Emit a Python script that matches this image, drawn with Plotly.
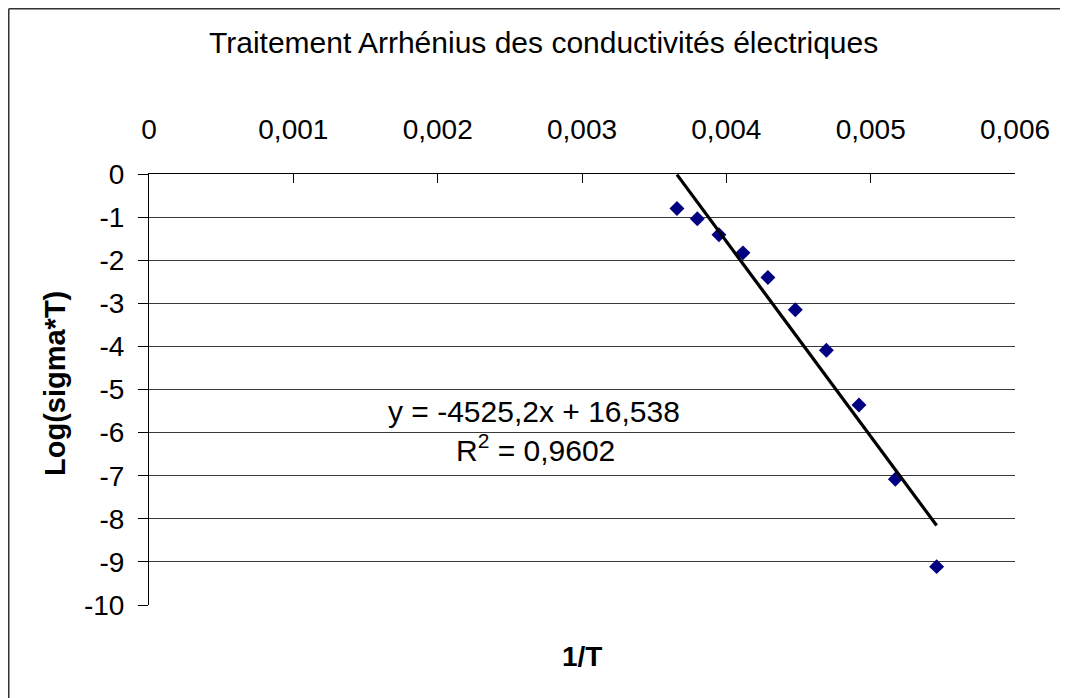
import plotly.graph_objects as go

# ---- data ----
inv_T = [0.003658, 0.003799, 0.003949, 0.004115, 0.004288,
         0.004478, 0.004693, 0.004919, 0.005171, 0.005457]
log_sigma_T = [-0.80, -1.04, -1.41, -1.83, -2.40,
               -3.15, -4.09, -5.36, -7.08, -9.11]
slope = -4525.2
intercept = 16.538
r2_text = "0,9602"

x_tick_vals = [0, 0.001, 0.002, 0.003, 0.004, 0.005, 0.006]
x_tick_text = ["0", "0,001", "0,002", "0,003", "0,004", "0,005", "0,006"]
y_tick_vals = [0, -1, -2, -3, -4, -5, -6, -7, -8, -9, -10]
y_tick_text = ["0", "-1", "-2", "-3", "-4", "-5", "-6", "-7", "-8", "-9", "-10"]

title_text = "Traitement Arrhénius des conductivités électriques"
x_title = "1/T"
y_title = "Log(sigma*T)"

FONT = "Liberation Sans, Arial, sans-serif"

# page offset (body margin of the html page)
OFF = 8
PAGE_W, PAGE_H = 1068, 698
W, H = PAGE_W - OFF, PAGE_H - OFF
# plot area in page pixels
PX0, PX1, PY0, PY1 = 149, 1015, 174, 605
L, R, T, B = PX0 - OFF, (W + OFF) - PX1, PY0 - OFF, (H + OFF) - PY1
PW, PH = W - L - R, H - T - B

def px_to_paper_x(px):
    return (px - OFF - L) / PW

def px_to_paper_y(py):
    return (H - B - (py - OFF)) / PH

# trend line over data range
x_min, x_max = min(inv_T), max(inv_T)
trend_x = [x_min, x_max]
trend_y = [slope * v + intercept for v in trend_x]

fig = go.Figure()
fig.add_trace(go.Scatter(
    x=inv_T, y=log_sigma_T, mode="markers",
    marker=dict(symbol="diamond", size=11.5, color="#000080",
                line=dict(width=0)),
    showlegend=False, hoverinfo="x+y"))
fig.add_trace(go.Scatter(
    x=trend_x, y=trend_y, mode="lines",
    line=dict(color="black", width=3.2),
    showlegend=False))

fig.update_layout(
    width=W, height=H,
    margin=dict(l=L, r=R, t=T, b=B, pad=0),
    paper_bgcolor="white", plot_bgcolor="white",
    font=dict(family=FONT, size=28, color="black"),
    showlegend=False,
)

fig.update_xaxes(
    side="top", range=[0, 0.006],
    tickvals=x_tick_vals, ticktext=x_tick_text,
    ticks="inside", ticklen=9, tickwidth=1, tickcolor="black",
    showline=True, linecolor="black", linewidth=1,
    showgrid=False, zeroline=False,
    tickfont=dict(family=FONT, size=28),
    ticklabelstandoff=23,
)
fig.update_yaxes(
    range=[-10, 0],
    tickvals=y_tick_vals, ticktext=y_tick_text,
    ticks="outside", ticklen=10, tickwidth=1, tickcolor="black",
    showline=True, linecolor="black", linewidth=1,
    showgrid=True, gridcolor="#3a3a3a", gridwidth=1,
    zeroline=False,
    tickfont=dict(family=FONT, size=28),
    ticklabelstandoff=8,
)

annotations = [
    dict(text=title_text, xref="paper", yref="paper",
         x=px_to_paper_x(543), y=px_to_paper_y(43),
         xanchor="center", yanchor="middle", showarrow=False,
         font=dict(family=FONT, size=30)),
    dict(text="<b>" + x_title + "</b>", xref="paper", yref="paper",
         x=px_to_paper_x(582), y=px_to_paper_y(656),
         xanchor="center", yanchor="middle", showarrow=False,
         font=dict(family=FONT, size=28)),
    dict(text="<b>" + y_title + "</b>", xref="paper", yref="paper",
         x=px_to_paper_x(55), y=px_to_paper_y(384), textangle=-90,
         xanchor="center", yanchor="middle", showarrow=False,
         font=dict(family=FONT, size=29)),
    dict(text="y = " + f"{slope}".replace(".", ",") + "x + "
              + f"{intercept}".replace(".", ","),
         xref="paper", yref="paper",
         x=px_to_paper_x(534), y=px_to_paper_y(411),
         xanchor="center", yanchor="middle", showarrow=False,
         font=dict(family=FONT, size=30)),
    dict(text="R<sup>2</sup> = " + r2_text,
         xref="paper", yref="paper",
         x=px_to_paper_x(535), y=px_to_paper_y(448),
         xanchor="center", yanchor="middle", showarrow=False,
         font=dict(family=FONT, size=30)),
]
fig.update_layout(annotations=annotations)

# outer chart-area border (left and top edges visible)
fig.add_shape(type="line", xref="paper", yref="paper",
              x0=px_to_paper_x(OFF + 0.75), x1=px_to_paper_x(W + OFF + 5),
              y0=px_to_paper_y(OFF + 0.75), y1=px_to_paper_y(OFF + 0.75),
              line=dict(color="#333333", width=1.5))
fig.add_shape(type="line", xref="paper", yref="paper",
              x0=px_to_paper_x(OFF + 0.75), x1=px_to_paper_x(OFF + 0.75),
              y0=px_to_paper_y(OFF + 0.75), y1=px_to_paper_y(H + OFF + 5),
              line=dict(color="#333333", width=1.5))

fig.write_html("out.html")
